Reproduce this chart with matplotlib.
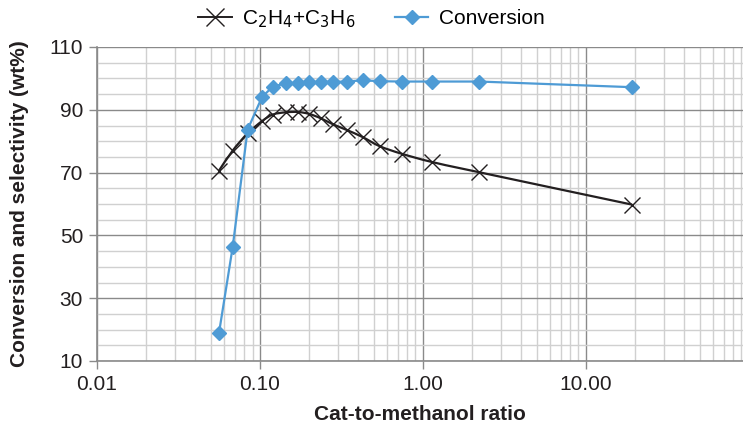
import numpy as np
import matplotlib
matplotlib.use("Agg")
import matplotlib.pyplot as plt
from matplotlib.path import Path
from matplotlib.patches import PathPatch
from matplotlib.ticker import FixedLocator, LogLocator, NullFormatter, MultipleLocator
from matplotlib.lines import Line2D

ratio = [0.056, 0.068, 0.084, 0.103, 0.12, 0.144, 0.171, 0.2, 0.236, 0.28,
         0.34, 0.427, 0.543, 0.741, 1.13, 2.22, 19.2]
olefins = [70.6, 77.0, 82.5, 86.4, 88.5, 89.2, 89.3, 88.7, 87.3, 85.4,
           83.6, 81.3, 78.4, 76.0, 73.4, 70.1, 59.8]
conversion = [18.8, 46.3, 83.7, 94.1, 97.4, 98.4, 98.6, 98.7, 98.8, 98.9,
              99.0, 99.4, 99.1, 99.0, 99.0, 99.0, 97.2]
x_ticks = [0.01, 0.1, 1.0, 10.0]
x_ticklabels = ["0.01", "0.10", "1.00", "10.00"]
y_ticks = [10, 30, 50, 70, 90, 110]

plt.rcParams['font.family'] = ['Liberation Sans', 'DejaVu Sans']

fig = plt.figure(figsize=(7.43, 4.26), dpi=100)
ax = fig.add_axes([97/743, 1-361/426, 1-97/743, (361-47)/426])

ax.set_xscale('log')
ax.set_xlim(0.01, 92)
ax.set_ylim(10, 110)

blue = '#4E9BD5'
black = '#231F20'

# smooth line for olefins (Catmull-Rom as Bezier in log-x space)
lx = np.log10(ratio)
yy = np.array(olefins, dtype=float)
pts = np.column_stack([lx, yy])
verts = [pts[0]]
codes = [Path.MOVETO]
n = len(pts)
for i in range(n - 1):
    p0 = pts[i - 1] if i > 0 else pts[i]
    p1 = pts[i]
    p2 = pts[i + 1]
    p3 = pts[i + 2] if i + 2 < n else pts[i + 1]
    c1 = p1 + (p2 - p0) / 6.0
    c2 = p2 - (p3 - p1) / 6.0
    verts += [c1, c2, p2]
    codes += [Path.CURVE4] * 3
verts = np.array(verts)
verts[:, 0] = 10 ** verts[:, 0]
patch = PathPatch(Path(verts, codes), facecolor='none', edgecolor=black, lw=1.6, zorder=3)
ax.add_patch(patch)
ax.plot(ratio, olefins, linestyle='none', marker='x', ms=11, mew=1.0, color=black, zorder=4)

ax.plot(ratio, conversion, color=blue, lw=1.6, marker='D', ms=7.5, mec=blue, mfc=blue, zorder=5)

# grid
ax.xaxis.set_major_locator(FixedLocator(x_ticks))
ax.set_xticklabels(x_ticklabels)
ax.xaxis.set_minor_locator(LogLocator(base=10, subs=np.arange(2, 10), numticks=20))
ax.xaxis.set_minor_formatter(NullFormatter())
ax.yaxis.set_major_locator(FixedLocator(y_ticks))
ax.yaxis.set_minor_locator(MultipleLocator(5))
ax.grid(True, which='major', color='#8a8a8a', lw=1.0, zorder=0)
ax.grid(True, which='minor', color='#d0d0d0', lw=1.0, zorder=0)
ax.set_axisbelow(True)

for s in ['top', 'right']:
    ax.spines[s].set_visible(False)
for s in ['left', 'bottom']:
    ax.spines[s].set_color('#8a8a8a')
    ax.spines[s].set_linewidth(1.2)

ax.tick_params(which='major', direction='out', length=6, width=1, color='#8a8a8a',
               labelsize=15, labelcolor='#231F20', pad=4)
ax.tick_params(which='minor', length=0)

ax.set_xlabel('Cat-to-methanol ratio', fontsize=15, fontweight='bold', color='#231F20', labelpad=8)
ax.set_ylabel('Conversion and selectivity (wt%)', fontsize=15, fontweight='bold', color='#231F20', labelpad=15)

h1 = Line2D([], [], color=black, lw=1.4, marker='x', ms=13, mew=1.0)
h2 = Line2D([], [], color=blue, lw=1.6, marker='D', ms=7.5, mec=blue, mfc=blue)
fig.legend([h1, h2], [r'C$_2$H$_4$+C$_3$H$_6$', 'Conversion'], loc='center',
           bbox_to_anchor=(0.5, 0.955), ncol=2, frameon=False, fontsize=15,
           handlelength=1.6, columnspacing=1.9, handletextpad=0.5)

fig.savefig('out.png', dpi=100)
